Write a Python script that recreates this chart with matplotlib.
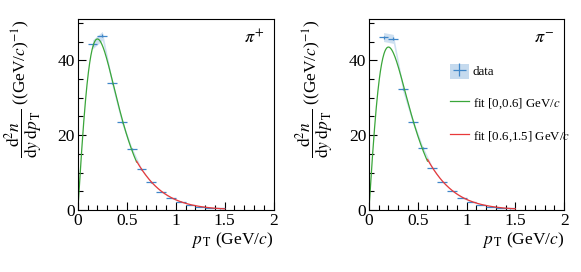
import matplotlib
matplotlib.use("Agg")
import matplotlib.pyplot as plt
import numpy as np
from matplotlib.patches import Patch
from matplotlib.ticker import MultipleLocator

plt.rcParams['font.family'] = ['Liberation Serif', 'DejaVu Serif']
plt.rcParams['mathtext.fontset'] = 'stix'

# measured spectra (bin centres, bin half width 0.05 GeV/c)
pt = [0.15, 0.25, 0.35, 0.45, 0.55, 0.65, 0.75, 0.85, 0.95, 1.05, 1.15, 1.25, 1.35, 1.45]
pip_y = [44.2, 46.5, 34.0, 23.6, 16.3, 10.9, 7.4, 4.9, 3.2, 2.2, 1.4, 0.9, 0.6, 0.4]
pim_y = [46.2, 45.7, 32.3, 23.6, 16.6, 11.3, 7.6, 5.2, 3.3, 2.2, 1.4, 0.9, 0.6, 0.4]
stat_err = [0.4, 0.4, 0.3, 0.3, 0.2, 0.2, 0.15, 0.1, 0.1, 0.1, 0.05, 0.05, 0.05, 0.05]
sys_err = [1.2, 1.2, 0.9, 0.7, 0.5, 0.3, 0.2, 0.15, 0.1, 0.1, 0.05, 0.05, 0.05, 0.05]

# fit parameters (A, m, T) of A * pT * exp(-(mT - m)/T)
fit_low = {'pip': (419.0, 0.17, 0.1524), 'pim': (406.5, 0.15, 0.16)}
fit_high = {'pip': (266.0, 0.14, 0.19), 'pim': (276.0, 0.14, 0.19)}

blue = '#3f86c8'
green = '#3aa63a'
red = '#e8393a'


def model(x, par):
    a, m, t = par
    return a * x * np.exp(-(np.sqrt(x ** 2 + m ** 2) - m) / t)


fig = plt.figure(figsize=(5.81, 2.72), dpi=100)
ax1 = fig.add_axes([0.134, 0.228, 0.337, 0.702])
ax2 = fig.add_axes([0.635, 0.228, 0.336, 0.702])

for ax, yv, key, lab in [(ax1, pip_y, 'pip', r'$\pi^{+}$'), (ax2, pim_y, 'pim', r'$\pi^{-}$')]:
    x = np.array(pt)
    y = np.array(yv)
    s = np.array(sys_err)
    ax.fill_between(x, y - s, y + s, color=blue, alpha=0.25, lw=0)
    eb = ax.errorbar(x, y, xerr=0.05, yerr=stat_err, fmt='none', ecolor=blue, elinewidth=0.9)
    xl = np.linspace(0, 0.6, 200)
    xh = np.linspace(0.6, 1.5, 200)
    l1, = ax.plot(xl, model(xl, fit_low[key]), color=green, lw=0.9)
    l2, = ax.plot(xh, model(xh, fit_high[key]), color=red, lw=0.9)
    ax.set_xlim(0, 2)
    ax.set_ylim(0, 51)
    ax.xaxis.set_minor_locator(MultipleLocator(0.1))
    ax.yaxis.set_major_locator(MultipleLocator(20))
    ax.yaxis.set_minor_locator(MultipleLocator(5))
    ax.set_xticks([0, 0.5, 1, 1.5, 2])
    ax.set_xticklabels(['0', '0.5', '1', '1.5', '2'])
    ax.tick_params(which='major', direction='in', length=6, width=0.8, labelsize=12.5, pad=2)
    ax.tick_params(which='minor', direction='in', length=3.5, width=0.8)
    ax.set_xlabel(r'$p_{\,\mathrm{T}}$ (GeV/$c$)', fontsize=12.5, loc='right', labelpad=1)
    ax.set_ylabel(r'$\dfrac{\mathrm{d}^2 n}{\mathrm{d}y\;\mathrm{d}p_{\,\mathrm{T}}}$ ((GeV/$c$)$^{-1}$)',
                  fontsize=12.5, labelpad=9, loc='top')
    ax.text(0.95, 0.90, lab, transform=ax.transAxes, ha='right', va='center', fontsize=13)
    if ax is ax2:
        ax.legend([(Patch(color=blue, alpha=0.3, lw=0), eb), l1, l2],
                  ['data', r'fit [0,0.6] GeV/$c$', r'fit [0.6,1.5] GeV/$c$'],
                  loc='upper left', bbox_to_anchor=(0.38, 0.8), frameon=False,
                  fontsize=9.3, labelspacing=1.3, handlelength=1.5, handleheight=1.4,
                  handletextpad=0.3, borderpad=0)

fig.savefig('out.png', dpi=100)
